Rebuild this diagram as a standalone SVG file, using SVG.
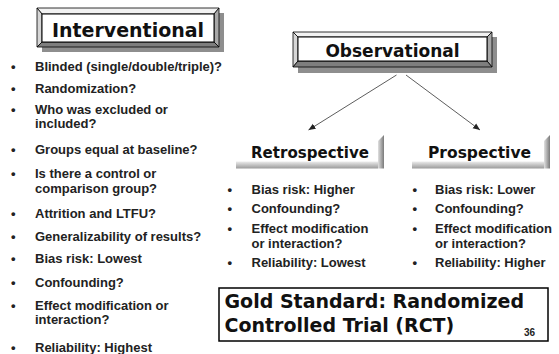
<svg xmlns="http://www.w3.org/2000/svg" width="559" height="354" viewBox="0 0 559 354">
<defs>
<linearGradient id="gBot" x1="0" y1="0" x2="0" y2="1"><stop offset="0" stop-color="#ececec"/><stop offset="1" stop-color="#9a9a9a"/></linearGradient>
<linearGradient id="gSide" x1="0" y1="0" x2="1" y2="0"><stop offset="0" stop-color="#e0e0e0"/><stop offset="1" stop-color="#7a7a7a"/></linearGradient>
<marker id="arr" markerWidth="8" markerHeight="8" refX="7" refY="4" orient="auto" markerUnits="userSpaceOnUse"><path d="M0,1 L7,4 L0,7 Z" fill="#222"/></marker>
<style>
.li{font-family:"Liberation Sans",Arial,sans-serif;font-weight:bold;font-size:13px;fill:#222}
.hd{font-family:"DejaVu Sans",Verdana,sans-serif;font-weight:bold;fill:#111}
.shadow{fill:#8e8e8e}
.bt{fill:#f2f2f2;stroke:#000;stroke-width:0.8}
.bl{fill:#d6d6d6;stroke:#000;stroke-width:0.8}
.br{fill:#a8a8a8;stroke:#000;stroke-width:0.8}
.bb{fill:#7e7e7e;stroke:#000;stroke-width:0.8}
.face{fill:#fff;stroke:#000;stroke-width:1}
.conn{stroke:#333;stroke-width:0.8;fill:none}
</style>
</defs>
<rect width="559" height="354" fill="#fff"/>

<g id="interventional">
<rect class="shadow" x="42" y="13" width="182" height="39"/>
<polygon class="bt" points="37,8 219,8 214,14 42,14"/>
<polygon class="bl" points="37,8 42,14 42,42 37,47"/>
<polygon class="br" points="219,8 219,47 214,42 214,14"/>
<polygon class="bb" points="37,47 219,47 214,42 42,42"/>
<rect class="face" x="42" y="14" width="172" height="28"/>
<text class="hd" x="128" y="36.5" font-size="19" text-anchor="middle">Interventional</text>
</g>

<g id="interventional-list" class="li">
<text x="11" y="71">•</text><text x="35" y="71">Blinded (single/double/triple)?</text>
<text x="11" y="92.5">•</text><text x="35" y="92.5">Randomization?</text>
<text x="11" y="114">•</text><text x="35" y="114">Who was excluded or</text>
<text x="35" y="128">included?</text>
<text x="11" y="154">•</text><text x="35" y="154">Groups equal at baseline?</text>
<text x="11" y="178">•</text><text x="35" y="178">Is there a control or</text>
<text x="35" y="192.5">comparison group?</text>
<text x="11" y="218">•</text><text x="35" y="218">Attrition and LTFU?</text>
<text x="11" y="240.5">•</text><text x="35" y="240.5">Generalizability of results?</text>
<text x="11" y="263">•</text><text x="35" y="263">Bias risk: Lowest</text>
<text x="11" y="286.5">•</text><text x="35" y="286.5">Confounding?</text>
<text x="11" y="310">•</text><text x="35" y="310">Effect modification or</text>
<text x="35" y="324">interaction?</text>
<text x="11" y="352">•</text><text x="35" y="352">Reliability: Highest</text>
</g>

<g id="observational">
<rect class="shadow" x="298" y="37" width="199" height="36"/>
<polygon class="bt" points="293,32 492,32 487,37 298,37"/>
<polygon class="bl" points="293,32 298,37 298,61 293,67"/>
<polygon class="br" points="492,32 492,67 487,61 487,37"/>
<polygon class="bb" points="293,67 492,67 487,61 298,61"/>
<rect class="face" x="298" y="37" width="189" height="24"/>
<text class="hd" x="392.5" y="57" font-size="17" text-anchor="middle">Observational</text>
</g>

<g id="connectors">
<line class="conn" x1="396.5" y1="75" x2="308.5" y2="130" marker-end="url(#arr)"/>
<line class="conn" x1="406" y1="75" x2="480" y2="130" marker-end="url(#arr)"/>
</g>

<g id="retrospective">
<rect x="236" y="161.5" width="142" height="7" fill="url(#gBot)"/>
<polygon points="378,141 384,135 384,168.5 378,168.5" fill="url(#gSide)"/>
<text class="hd" x="251" y="158" font-size="15.5" textLength="118" lengthAdjust="spacingAndGlyphs">Retrospective</text>
</g>

<g id="prospective">
<rect x="412" y="161.5" width="132" height="7" fill="url(#gBot)"/>
<polygon points="544,141 550,135 550,168.5 544,168.5" fill="url(#gSide)"/>
<text class="hd" x="428" y="158" font-size="15.5" textLength="103" lengthAdjust="spacingAndGlyphs">Prospective</text>
</g>

<g id="retrospective-list" class="li">
<text x="227.5" y="194">•</text><text x="251.5" y="194">Bias risk: Higher</text>
<text x="227.5" y="213">•</text><text x="251.5" y="213">Confounding?</text>
<text x="227.5" y="233">•</text><text x="251.5" y="233">Effect modification</text>
<text x="251.5" y="248">or interaction?</text>
<text x="227.5" y="266.5">•</text><text x="251.5" y="266.5">Reliability: Lowest</text>
</g>

<g id="prospective-list" class="li">
<text x="412.5" y="194">•</text><text x="435" y="194">Bias risk: Lower</text>
<text x="412.5" y="213">•</text><text x="435" y="213">Confounding?</text>
<text x="412.5" y="233">•</text><text x="435" y="233">Effect modification</text>
<text x="435" y="248">or interaction?</text>
<text x="412.5" y="266.5">•</text><text x="435" y="266.5">Reliability: Higher</text>
</g>

<g id="gold-standard">
<rect x="219" y="288" width="329" height="53" fill="#fff" stroke="#000" stroke-width="1.5"/>
<text class="hd" x="224.5" y="308" font-size="19">Gold Standard: Randomized</text>
<text class="hd" x="224.5" y="332" font-size="19">Controlled Trial (RCT)</text>
<text class="li" x="524" y="336" style="font-size:10px">36</text>
</g>
</svg>
